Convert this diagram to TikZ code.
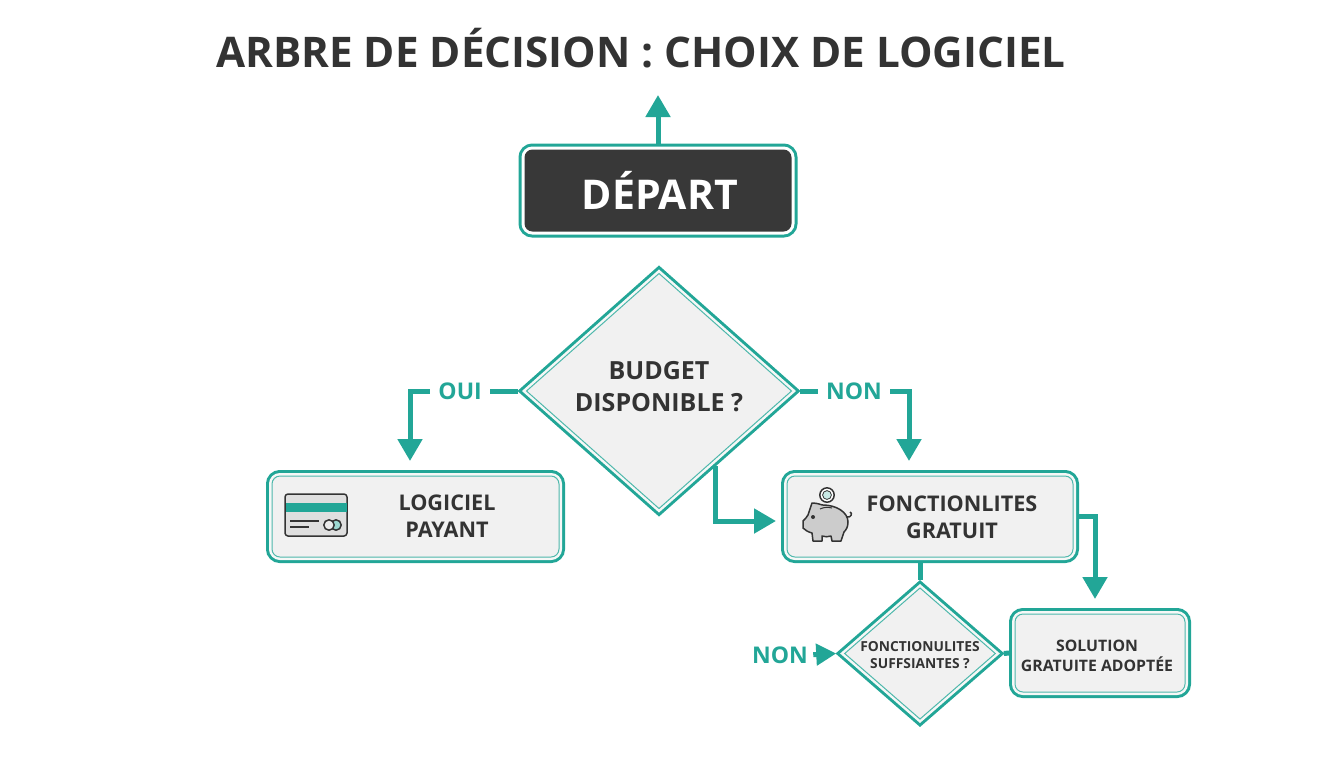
\documentclass[tikz,border=0pt]{standalone}
\usepackage{fontspec}
\setmainfont{Open Sans}
\usetikzlibrary{arrows.meta,shapes.geometric}
\definecolor{tealline}{HTML}{22A697}
\definecolor{darkbox}{HTML}{383838}
\definecolor{inktext}{HTML}{333333}
\definecolor{boxgray}{HTML}{F1F1F1}
\definecolor{boxgap}{HTML}{F6F8F7}
\tikzstyle{startbox}=[rectangle,rounded corners=4pt,preaction={draw=tealline,line width=6pt},preaction={draw=white,line width=3pt},fill=darkbox,outer sep=3pt,minimum width=133.5pt,minimum height=41pt,text=white,font=\bfseries\fontsize{20.5}{24}\selectfont]
\tikzstyle{framed}=[preaction={draw=tealline,line width=6pt},preaction={draw=boxgap,line width=3pt},draw=tealline!80,line width=.5pt,fill=boxgray,inner sep=0pt]
\tikzstyle{choicebox}=[framed,rectangle,rounded corners=4pt,outer sep=3pt]
\tikzstyle{choice}=[framed,diamond,outer sep=3pt,text=inktext,align=center,font=\bfseries]
\tikzstyle{boxtext}=[text=inktext,align=center,font=\bfseries\fontsize{10.8}{13.5}\selectfont]
\tikzstyle{link}=[draw=tealline,line width=2.5pt,-{Triangle[width=12pt,length=11pt]},shorten >=4.5pt]
\tikzstyle{stub}=[draw=tealline,line width=2.5pt]
\tikzstyle{answer}=[fill=white,text=tealline,inner xsep=4pt,inner ysep=1pt,font=\bfseries\fontsize{11.5}{14}\selectfont]
\tikzstyle{icon}=[draw=inktext,line width=.75pt,line join=round]
\begin{document}
\begin{tikzpicture}[x=.5pt,y=-.5pt]
	\useasboundingbox (0,0) rectangle (1344,768);
	\node[text=inktext,font=\bfseries\fontsize{21.1}{26}\selectfont] (title) at (641,48) {ARBRE DE DÉCISION : CHOIX DE LOGICIEL};
	\node[startbox] (depart) at (658,190.5) {\hspace*{2pt}DÉPART};
	\coordinate (sortie) at (658,95);
	\node[choice,minimum width=135pt,minimum height=120pt,text depth=5pt,font=\bfseries\fontsize{12.5}{16}\selectfont] (budget) at (659,391) {BUDGET\\DISPONIBLE ?};
	\node[choicebox,minimum width=143.5pt,minimum height=40.5pt] (payant) at (415.5,516.5) {};
	\node[choicebox,minimum width=143pt,minimum height=40.5pt] (gratuit) at (930,516.5) {};
	\node[choice,minimum width=77.8pt,minimum height=68pt,inner sep=-4pt,text height=15.5pt,font=\bfseries\fontsize{6.9}{8.5}\selectfont] (suffisantes) at (920,653.5) {FONCTIONULITES\\SUFFSIANTES ?};
	\node[choicebox,minimum width=85pt,minimum height=39pt,text height=18.6pt,font=\bfseries\fontsize{7.9}{10}\selectfont,text=inktext,align=center] (solution) at (1100,653) {SOLUTION\hspace*{3pt}\\GRATUITE ADOPTÉE\hspace*{3pt}};
	\node[boxtext] (payanttext) at (447,516.5) {LOGICIEL\\PAYANT};
	\node[boxtext] (gratuittext) at (952,517) {FONCTIONLITES\\GRATUIT};
	\node[answer,fill=none,inner sep=0pt] (nonbas) at (780,655) {NON};
	% Connect the nodes
	\path[link,shorten >=0pt] (depart.north) -- (sortie);
	\path[link] (budget.west) -| node[answer,pos=.268] {OUI} ([xshift=-2.75pt]payant.north);
	\path[link] (budget.east) -| node[answer,pos=.248] {NON} ([xshift=-10.5pt]gratuit.north);
	\path[link,shorten >=2.5pt] (budget.-53.4) |- ([yshift=-2.25pt]gratuit.west);
	\path[link] (gratuit.east) -| ([xshift=-2.5pt]solution.north);
	\path[stub] (gratuit.south -| suffisantes.north) -- (suffisantes.north);
	\path[stub] (suffisantes.east) -- (solution.west);
	\path[link,shorten >=0pt,shorten <=2.5pt,-{Triangle[width=10.5pt,length=10pt]}] (nonbas.east) -- (suffisantes.west);
	% Card icon
	\draw[icon,fill=gray!25,rounded corners=1.5pt] (285,494) rectangle (347,536);
	\fill[tealline] (285.5,503) rectangle (346.5,512);
	\draw[icon] (290,521) -- (319,521) (290,527) -- (309,527);
	\draw[icon,fill=tealline!45] (336,525) circle (2.6pt);
	\draw[icon,fill=gray!15] (329,525) circle (2.6pt);
	% Piggy bank icon
	\draw[icon,fill=white] (827,495) circle (3.6pt);
	\draw[icon,line width=.4pt,fill=tealline!25] (827,495) circle (2.2pt);
	\draw[icon,fill=gray!40] (812,503) .. controls (818,503) and (821,505) .. (823,505)
		.. controls (836,505) and (848,512) .. (848,522)
		.. controls (848,527) and (846,530) .. (844,532) -- (841,541) -- (832,541) -- (831,536)
		.. controls (828,537) and (825,537) .. (822,536) -- (822,541) -- (813,541) -- (812,533)
		.. controls (808,532) and (805,530) .. (803,528) -- (803,521)
		.. controls (805,519) and (807,517) .. (808,515) -- cycle;
	\draw[icon] (847,517) .. controls (851,518) and (853,513) .. (850,512);
	\draw[icon,line width=.5pt] (820,509) .. controls (824,507) and (828,507) .. (832,508);
	\fill[inktext] (813,517) circle (1pt);
\end{tikzpicture}
\end{document}
